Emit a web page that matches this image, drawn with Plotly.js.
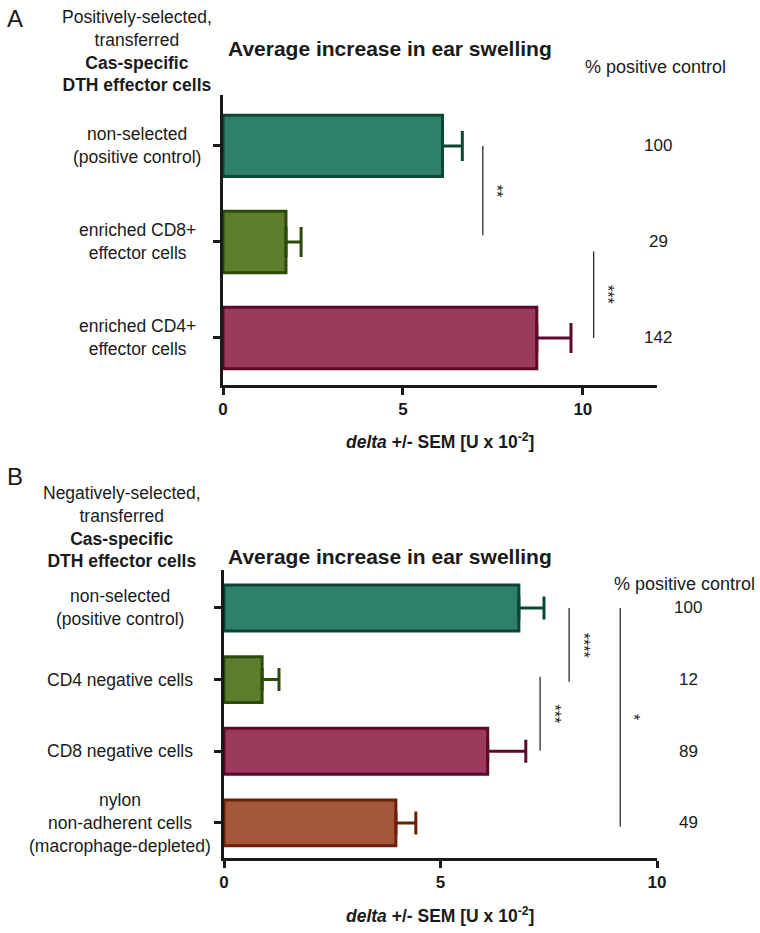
<!DOCTYPE html>
<html>
<head>
<meta charset="utf-8">
<script src="https://cdn.plot.ly/plotly-3.0.1.min.js"></script>
<style>html,body{margin:0;padding:0;background:#fff;}#chart{width:760px;height:933px;}</style>
</head>
<body>
<div id="chart"></div>
<script>
// ---------- DATA ----------
const catsA = ['non-selected<br>(positive control)', 'enriched CD8+<br>effector cells', 'enriched CD4+<br>effector cells'];
const valsA = [6.1, 1.75, 8.72];
const errA = [0.55, 0.42, 0.95];
const pctA = ['100', '29', '142'];
const sigAFrom = [0, 1.1];
const sigATo = [0.93, 2.0];
const sigAX = [7.22, 10.3];
const sigALabel = ['**', '***'];

const catsB = ['non-selected<br>(positive control)', 'CD4 negative cells', 'CD8 negative cells', 'nylon<br>non-adherent cells<br>(macrophage-depleted)'];
const valsB = [6.81, 0.88, 6.09, 3.97];
const errB = [0.58, 0.39, 0.88, 0.46];
const pctB = ['100', '12', '89', '49'];
const sigBFrom = [0, 0.96, 0];
const sigBTo = [1.03, 1.99, 3.05];
const sigBX = [7.97, 7.3, 9.15];
const sigBLabel = ['****', '***', '*'];

const ticksX_A = [0, 5, 10];
const ticksX_B = [0, 5, 10];

// ---------- STYLE ----------
const fills = ['#2e8068', '#5e7d2c', '#9c3a5c', '#a4573b'];
const lines = ['#0c4634', '#2c4a08', '#5c0a2c', '#6b2008'];
const FONT = 'Liberation Sans, Arial, Helvetica, sans-serif';
const INK = '#1a1a1a';
const W = 760, H = 933;
const px = x => x / W;
const py = y => 1 - y / H;

const traces = [];
function addBars(cats, vals, errs, xa, ya, capw) {
  cats.forEach((c, i) => {
    traces.push({
      type: 'bar', orientation: 'h',
      x: [vals[i]], y: [i],
      xaxis: xa, yaxis: ya,
      width: 0.64,
      marker: {color: fills[i], line: {color: lines[i], width: 3}},
      error_x: {type: 'data', array: [errs[i]], symmetric: false, arrayminus: [0], color: lines[i], thickness: 3, width: capw},
      hoverinfo: 'x', showlegend: false
    });
  });
}
addBars(catsA, valsA, errA, 'x', 'y', 15);
addBars(catsB, valsB, errB, 'x2', 'y2', 11.5);

const annotations = [];
const shapes = [];
function txt(t, x, y, size) {
  annotations.push({text: t, x: x, y: y, xref: 'paper', yref: 'paper', showarrow: false,
    xanchor: 'center', yanchor: 'middle', align: 'center', font: {family: FONT, size: size, color: INK}});
}

// Panel A headers
txt('A', px(15), py(19), 24);
txt('Positively-selected,<br>transferred<br><b>Cas-specific</b><br><b>DTH effector cells</b>', px(137), py(51), 17.5);
txt('<b>Average increase in ear swelling</b>', px(390), py(48), 21);
txt('% positive control', px(655), py(67), 18);
txt('<b><i>delta</i> +/- SEM [U x 10<sup>-2</sup>]</b>', px(440), py(441), 17.5);

// Panel B headers
txt('B', px(15), py(476), 24);
txt('Negatively-selected,<br>transferred<br><b>Cas-specific</b><br><b>DTH effector cells</b>', px(122), py(527), 17.5);
txt('<b>Average increase in ear swelling</b>', px(390), py(556), 21);
txt('% positive control', px(684), py(584), 18);
txt('<b><i>delta</i> +/- SEM [U x 10<sup>-2</sup>]</b>', px(440), py(915), 17.5);

// category labels & percent labels
function catLabels(cats, pcts, yref, lx, pxx) {
  cats.forEach((c, i) => {
    annotations.push({text: c, x: px(lx), y: i, xref: 'paper', yref: yref, showarrow: false, xanchor: 'center', yanchor: 'middle', align: 'center',
      font: {family: FONT, size: 17.5, color: INK}});
    annotations.push({text: pcts[i], x: px(pxx), y: i, xref: 'paper', yref: yref, showarrow: false, xanchor: 'center', yanchor: 'middle',
      font: {family: FONT, size: 17, color: INK}});
  });
}
catLabels(catsA, pctA, 'y', 137, 658);
catLabels(catsB, pctB, 'y2', 120, 688);

// significance lines
function sig(from, to, xs, labs, xr, yr) {
  from.forEach((f, i) => {
    shapes.push({type: 'line', xref: xr, yref: yr, x0: xs[i], x1: xs[i], y0: f, y1: to[i], line: {color: INK, width: 1.2}});
    annotations.push({text: labs[i], x: xs[i], y: (f + to[i]) / 2, xref: xr, yref: yr, showarrow: false, xshift: 14, textangle: 90,
      xanchor: 'center', yanchor: 'middle', font: {family: FONT, size: 16, color: INK}});
  });
}
sig(sigAFrom, sigATo, sigAX, sigALabel, 'x', 'y');
sig(sigBFrom, sigBTo, sigBX, sigBLabel, 'x2', 'y2');

const axX = {
  showline: true, linecolor: INK, linewidth: 3, ticks: 'outside', ticklen: 7, tickwidth: 3, tickcolor: INK,
  showgrid: false, zeroline: false, tickmode: 'array',
  tickfont: {family: FONT, size: 17, color: INK, weight: 'bold'}, fixedrange: true
};
const axY = {
  showline: true, linecolor: INK, linewidth: 3, ticks: 'outside', ticklen: 7, tickwidth: 3, tickcolor: INK,
  showgrid: false, zeroline: false, showticklabels: false, tickmode: 'array', fixedrange: true
};

const layout = {
  width: W, height: H,
  margin: {l: 0, r: 0, t: 0, b: 0},
  paper_bgcolor: '#fff', plot_bgcolor: '#fff',
  showlegend: false, barmode: 'overlay',
  xaxis: Object.assign({}, axX, {domain: [px(223), px(657)], range: [0, 12.06], tickvals: ticksX_A, anchor: 'y'}),
  yaxis: Object.assign({}, axY, {domain: [py(385), py(95)], range: [2.49, -0.53], tickvals: catsA.map((c, i) => i), anchor: 'x'}),
  xaxis2: Object.assign({}, axX, {domain: [px(224), px(657)], range: [0, 10], tickvals: ticksX_B, anchor: 'y2'}),
  yaxis2: Object.assign({}, axY, {domain: [py(858), py(570)], range: [3.49, -0.53], tickvals: catsB.map((c, i) => i), anchor: 'x2'}),
  annotations: annotations,
  shapes: shapes
};

Plotly.newPlot('chart', traces, layout, {displayModeBar: false, staticPlot: true});
</script>
</body>
</html>
